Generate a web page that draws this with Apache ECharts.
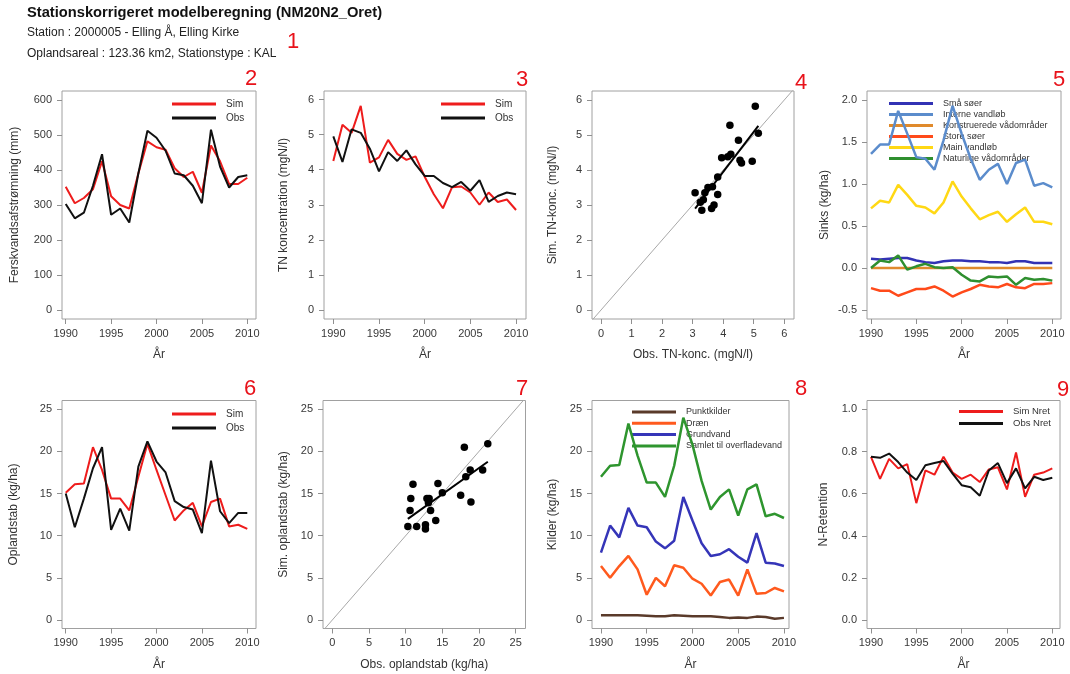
<!DOCTYPE html>
<html><head><meta charset="utf-8">
<script src="https://cdn.jsdelivr.net/npm/echarts@6/dist/echarts.min.js"></script>
<style>html,body{margin:0;padding:0;background:#fff}#c{width:1070px;height:674px}</style>
</head><body><div id="c"></div>
<script>
// ---------- DATA ----------
const years = [1990,1991,1992,1993,1994,1995,1996,1997,1998,1999,2000,2001,2002,2003,2004,2005,2006,2007,2008,2009,2010];
const flowSim = [352,305,320,345,425,325,300,290,390,482,465,458,405,380,395,335,470,425,360,360,378];
const flowObs = [303,262,278,355,445,272,290,250,390,512,492,455,390,385,355,305,515,410,350,380,385];
const tnSim = [4.25,5.28,5.05,5.82,4.20,4.35,4.85,4.45,4.28,4.38,3.80,3.30,2.90,3.50,3.52,3.35,3.00,3.35,3.08,3.15,2.85];
const tnObs = [4.95,4.22,5.15,5.05,4.60,3.95,4.50,4.25,4.55,4.15,3.82,3.82,3.62,3.50,3.65,3.40,3.70,3.08,3.25,3.35,3.30];
const smaSoer = [0.11,0.10,0.11,0.12,0.12,0.09,0.07,0.06,0.08,0.09,0.09,0.08,0.08,0.07,0.07,0.06,0.08,0.08,0.06,0.06,0.06];
const interneVandlob = [1.36,1.47,1.47,1.87,1.60,1.32,1.30,1.17,1.52,1.93,1.60,1.30,1.05,1.17,1.24,1.00,1.25,1.29,0.98,1.01,0.96];
const konstrueredeVad = [0,0,0,0,0,0,0,0,0,0,0,0,0,0,0,0,0,0,0,0,0];
const storeSoer = [-0.24,-0.27,-0.27,-0.33,-0.29,-0.25,-0.25,-0.22,-0.27,-0.34,-0.29,-0.25,-0.20,-0.22,-0.23,-0.19,-0.23,-0.24,-0.19,-0.19,-0.18];
const mainVandlob = [0.71,0.80,0.78,0.99,0.87,0.74,0.72,0.65,0.78,1.03,0.85,0.71,0.58,0.63,0.67,0.55,0.64,0.72,0.55,0.55,0.52];
const naturligeVad = [0.00,0.09,0.07,0.15,-0.02,0.02,0.05,0.01,0.00,0.01,-0.08,-0.15,-0.16,-0.10,-0.11,-0.10,-0.20,-0.12,-0.14,-0.13,-0.15];
const tabSim = [15.1,16.1,16.2,20.5,17.8,14.4,14.4,13.0,17.0,20.9,17.8,14.8,11.8,13.0,13.9,11.1,14.0,14.4,11.1,11.3,10.8];
const tabObs = [15.0,11.0,14.4,18.0,20.5,10.7,13.2,10.6,18.2,21.2,18.8,17.5,14.1,13.4,13.1,10.3,18.9,12.9,11.5,12.7,12.7];
const punktkilder = [0.55,0.55,0.55,0.55,0.55,0.50,0.45,0.45,0.55,0.50,0.45,0.45,0.45,0.35,0.25,0.30,0.25,0.40,0.35,0.15,0.25];
const draen = [6.4,5.0,6.4,7.6,6.0,3.0,5.0,4.0,6.5,6.2,4.9,4.3,2.9,4.5,4.8,2.9,6.0,3.1,3.2,3.8,3.4];
const grundvand = [8.0,11.2,9.8,13.3,11.2,11.0,9.3,8.5,9.4,14.6,11.8,9.1,7.6,7.8,8.4,7.5,6.8,10.3,6.8,6.7,6.4];
const samlet = [17.0,18.3,18.4,23.3,19.5,16.3,16.3,14.6,18.3,24.0,20.8,16.5,13.1,14.6,15.5,12.4,15.5,16.1,12.3,12.6,12.1];
const nretSim = [0.775,0.67,0.765,0.72,0.74,0.555,0.71,0.69,0.775,0.70,0.67,0.69,0.655,0.715,0.725,0.62,0.795,0.585,0.69,0.70,0.72];
const nretObs = [0.775,0.77,0.79,0.75,0.70,0.665,0.735,0.745,0.755,0.695,0.64,0.63,0.59,0.71,0.745,0.65,0.72,0.625,0.68,0.665,0.675];

const yearTicks = [1990,1995,2000,2005,2010];
const flowTicks = [0,100,200,300,400,500,600];
const tnTicks = [0,1,2,3,4,5,6];
const sinkTicks = [-0.5,0,0.5,1,1.5,2];
const kgTicks = [0,5,10,15,20,25];
const retTicks = [0,0.2,0.4,0.6,0.8,1.0];

// ---------- HELPERS ----------
const FONT = '"Liberation Sans", Arial, sans-serif';
const pair = (a) => years.map((y,i)=>[y,a[i]]);
const zip = (xs,ys) => xs.map((x,i)=>[x,ys[i]]);
function fitLine(xs, ys){
  const n = xs.length;
  const mx = xs.reduce((s,v)=>s+v,0)/n, my = ys.reduce((s,v)=>s+v,0)/n;
  let sxy=0,sxx=0; xs.forEach((x,i)=>{sxy+=(x-mx)*(ys[i]-my); sxx+=(x-mx)*(x-mx);});
  const b = sxy/sxx, a = my-b*mx;
  const x0 = Math.min(...xs), x1 = Math.max(...xs);
  return [[x0,a+b*x0],[x1,a+b*x1]];
}
function grid(l,t,w,h){return {left:l,top:t,width:w,height:h,show:true,borderColor:'#a0a0a0',borderWidth:1,backgroundColor:'transparent'};}
function axis(gi, min, max, ticks, name, gap, fmt, isY){
  return {type:'value', gridIndex:gi, min:min, max:max, name:name, nameLocation:'middle', nameGap:gap,
    nameTextStyle:{fontFamily:FONT,fontSize:12,color:'#333'},
    axisLine:{show:false,onZero:false},
    axisTick:{show:true,inside:false,length:5,lineStyle:{color:'#909090'},customValues:ticks},
    axisLabel:{customValues:ticks,fontFamily:FONT,fontSize:11,color:'#383838',margin:isY?10:9,formatter:fmt||(v=>String(v))},
    splitLine:{show:false}};
}
const f1 = v => v.toFixed(1);
function line(name, gi, data, color, w){
  return {type:'line', name:name, xAxisIndex:gi, yAxisIndex:gi, data:data, showSymbol:false, symbol:'none',
    color:color, lineStyle:{color:color,width:w||2}, z:3, animation:false};
}
function legend(names, left, top, fs, lh, gap){
  return {data:names, orient:'vertical', left:left, top:top, padding:0, icon:'rect', itemWidth:44, itemHeight:3,
    itemGap:gap, z:1, selectedMode:false,
    textStyle:{fontFamily:FONT,fontSize:fs,color:'#333',lineHeight:lh,padding:[0,0,0,5]}};
}
const RED='#ee1c1c', BLK='#111111';

const grids = [
  grid(62,91,194,228),   // 0: flow
  grid(324,91,202,228),  // 1: TN
  grid(592,91,202,228),  // 2: TN scatter
  grid(867,91,194,228),  // 3: sinks
  grid(62,400.5,194,228),// 4: oplandstab
  grid(323,400.5,202.5,228), // 5: scatter tab
  grid(592,400.5,197,228),   // 6: kilder
  grid(867,400.5,193,228)    // 7: N-retention
];
const xAxes = [
  axis(0,1989.59,2010.96,yearTicks,'År',30),
  axis(1,1988.98,2011.09,yearTicks,'År',30),
  axis(2,-0.295,6.318,tnTicks,'Obs. TN-konc. (mgN/l)',30),
  axis(3,1989.56,2010.96,yearTicks,'År',30),
  axis(4,1989.59,2010.96,yearTicks,'År',30),
  axis(5,-1.27,26.34,kgTicks,'Obs. oplandstab (kg/ha)',30),
  axis(6,1989.02,2010.55,yearTicks,'År',30),
  axis(7,1989.56,2010.85,yearTicks,'År',30)
];
const yAxes = [
  axis(0,-25.7,625.7,flowTicks,'Ferskvandsafstrømning (mm)',41,null,true),
  axis(1,-0.257,6.243,tnTicks,'TN koncentration (mgN/l)',34,null,true),
  axis(2,-0.257,6.257,tnTicks,'Sim. TN-konc. (mgN/l)',33,null,true),
  axis(3,-0.607,2.107,sinkTicks,'Sinks (kg/ha)',36,f1,true),
  axis(4,-1.01,26.04,kgTicks,'Oplandstab (kg/ha)',42,null,true),
  axis(5,-1.01,26.04,kgTicks,'Sim. oplandstab (kg/ha)',33,null,true),
  axis(6,-1.01,26.04,kgTicks,'Kilder (kg/ha)',33,null,true),
  axis(7,-0.040,1.042,retTicks,'N-Retention',37,f1,true)
];

const scatterStyle = {color:'#000',opacity:1};
const series = [
  line('Sim',0,pair(flowSim),RED), line('Obs',0,pair(flowObs),BLK),
  line('Sim',1,pair(tnSim),RED), line('Obs',1,pair(tnObs),BLK),
  {type:'line',xAxisIndex:2,yAxisIndex:2,data:[[-1,-1],[7,7]],showSymbol:false,symbol:'none',lineStyle:{color:'#a8a8a8',width:1},clip:true,z:2,silent:true,animation:false},
  {type:'scatter',xAxisIndex:2,yAxisIndex:2,data:zip(tnObs,tnSim),symbolSize:7.5,itemStyle:scatterStyle,z:4,animation:false},
  {type:'line',xAxisIndex:2,yAxisIndex:2,data:fitLine(tnObs,tnSim),showSymbol:false,symbol:'none',lineStyle:{color:'#000',width:2},z:5,animation:false},
  line('Små søer',3,pair(smaSoer),'#3232b4',2.5),
  line('Interne vandløb',3,pair(interneVandlob),'#5b8ccc',2.5),
  line('Konstruerede vådområder',3,pair(konstrueredeVad),'#e08a2c',2.5),
  line('Store søer',3,pair(storeSoer),'#ff4a1a',2.5),
  line('Main vandløb',3,pair(mainVandlob),'#ffd814',2.5),
  line('Naturlige vådområder',3,pair(naturligeVad),'#2f8f2f',2.5),
  line('Sim',4,pair(tabSim),RED), line('Obs',4,pair(tabObs),BLK),
  {type:'line',xAxisIndex:5,yAxisIndex:5,data:[[-2,-2],[28,28]],showSymbol:false,symbol:'none',lineStyle:{color:'#a8a8a8',width:1},clip:true,z:2,silent:true,animation:false},
  {type:'scatter',xAxisIndex:5,yAxisIndex:5,data:zip(tabObs,tabSim),symbolSize:7.5,itemStyle:scatterStyle,z:4,animation:false},
  {type:'line',xAxisIndex:5,yAxisIndex:5,data:fitLine(tabObs,tabSim),showSymbol:false,symbol:'none',lineStyle:{color:'#000',width:2},z:5,animation:false},
  line('Punktkilder',6,pair(punktkilder),'#5a3a2a',2.5),
  line('Dræn',6,pair(draen),'#ff5a1e',2.5),
  line('Grundvand',6,pair(grundvand),'#3535b8',2.5),
  line('Samlet til overfladevand',6,pair(samlet),'#2e952e',2.5),
  line('Sim Nret',7,pair(nretSim),RED), line('Obs Nret',7,pair(nretObs),BLK)
];

const legends = [
  legend(['Sim','Obs'],172,98,10,12,2),
  legend(['Sim','Obs'],441,98,10,12,2),
  legend(['Små søer','Interne vandløb','Konstruerede vådområder','Store søer','Main vandløb','Naturlige vådområder'],889,98,9,11,0),
  legend(['Sim','Obs'],172,408,10,12,2),
  legend(['Punktkilder','Dræn','Grundvand','Samlet til overfladevand'],632,406.5,9,11,0.3),
  legend(['Sim Nret','Obs Nret'],959,406,9.5,11,1)
];

const numStyle = (t,x,y)=>({type:'text',x:x,y:y,style:{text:t,font:'22px '+FONT,fill:'#e8121a',textAlign:'center',textVerticalAlign:'middle'},z:10});
const graphic = [
  {type:'text',x:27,y:5,style:{text:'Stationskorrigeret modelberegning (NM20N2_Oret)',font:'bold 14.7px '+FONT,fill:'#111'}},
  {type:'text',x:27,y:27,style:{text:'Station : 2000005 - Elling Å, Elling Kirke',font:'12px '+FONT,fill:'#222'}},
  {type:'text',x:27,y:48,style:{text:'Oplandsareal : 123.36 km2, Stationstype : KAL',font:'12px '+FONT,fill:'#222'}},
  numStyle('1',293,42), numStyle('2',251,79), numStyle('3',522,80), numStyle('4',801,83), numStyle('5',1059,80),
  numStyle('6',250,389), numStyle('7',522,389), numStyle('8',801,389), numStyle('9',1063,390)
];

const chart = echarts.init(document.getElementById('c'), null, {renderer:'canvas'});
chart.setOption({animation:false, backgroundColor:'#fff', grid:grids, xAxis:xAxes, yAxis:yAxes, legend:legends, series:series, graphic:graphic});
</script></body></html>
